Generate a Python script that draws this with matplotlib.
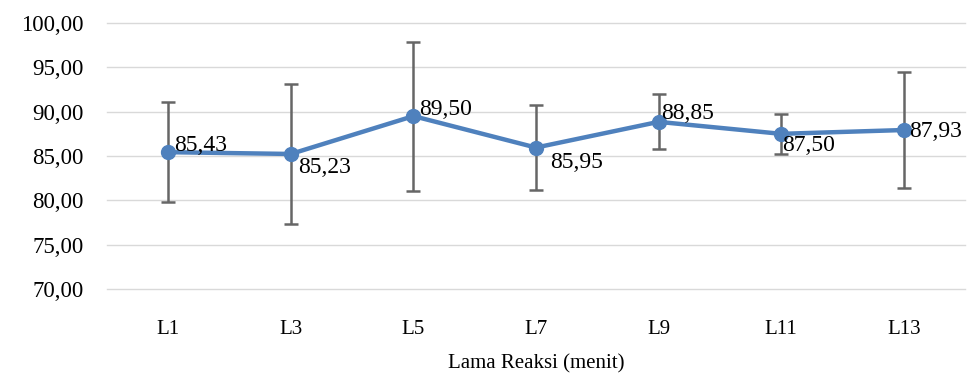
import matplotlib
matplotlib.use("Agg")
import matplotlib.pyplot as plt

plt.rcParams['font.family'] = ['Liberation Serif', 'DejaVu Serif']

# data
categories = ["L1", "L3", "L5", "L7", "L9", "L11", "L13"]
means = [85.43, 85.23, 89.50, 85.95, 88.85, 87.50, 87.93]
errors = [5.65, 7.85, 8.40, 4.75, 3.10, 2.25, 6.55]
y_ticks = [70, 75, 80, 85, 90, 95, 100]

# per-label offsets (points) and vertical alignment, mimicking the manual placement
label_style = [((4, 1), 'baseline'), ((5, -2), 'top'), ((4, 1), 'baseline'),
               ((10, -3), 'top'), ((2, 2), 'baseline'), ((1, -1), 'top'),
               ((4, -1), 'center')]

fig = plt.figure(figsize=(9.73, 3.83), dpi=100)
ax = fig.add_axes([107 / 973, 1 - 289 / 383, (965 - 107) / 973, (289 - 23) / 383])

x = list(range(len(categories)))

ax.errorbar(x, means, yerr=errors, fmt='none', ecolor='#666666',
            elinewidth=1.8, capsize=5, capthick=1.8, zorder=2)
ax.plot(x, means, color='#4F81BD', linewidth=3.2, marker='o', markersize=10,
        zorder=3)

for xi, m, (off, va) in zip(x, means, label_style):
    ax.annotate(f"{m:.2f}".replace('.', ','), (xi, m), xytext=off,
                textcoords='offset points', ha='left', va=va, fontsize=17,
                color='black', zorder=4)

ax.set_xlim(-0.5, len(categories) - 0.5)
ax.set_ylim(70, 100)
ax.set_yticks(y_ticks)
ax.set_yticklabels([f"{v:.2f}".replace('.', ',') for v in y_ticks])
ax.set_xticks(x)
ax.set_xticklabels(categories)
ax.tick_params(axis='both', length=0)
ax.tick_params(axis='y', pad=17, labelsize=16.5)
ax.tick_params(axis='x', pad=22, labelsize=15)

ax.grid(axis='y', color='#d9d9d9', linewidth=1)
for gl in ax.get_ygridlines():
    gl.set_clip_on(False)
ax.set_axisbelow(True)
for s in ax.spines.values():
    s.set_visible(False)

ax.set_xlabel("Lama Reaksi (menit)", fontsize=15, labelpad=11)

fig.savefig("out.png", dpi=100)
